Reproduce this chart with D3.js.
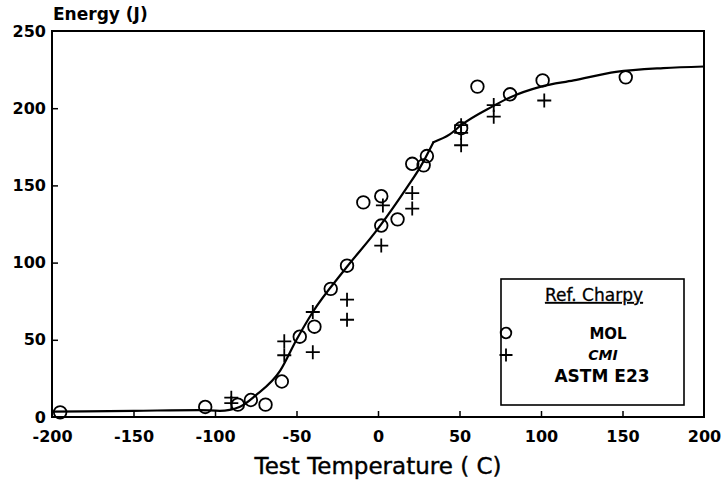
<!DOCTYPE html>
<html>
<head>
<meta charset="utf-8">
<script src="https://cdn.jsdelivr.net/npm/d3@7"></script>
<style>
html,body{margin:0;padding:0;background:#fff;}
svg{display:block;}
</style>
</head>
<body>
<svg id="chart" width="727" height="483"></svg>
<script>
// ---- data ----
const xTicks = [-200, -150, -100, -50, 0, 50, 100, 150, 200];
const yTicks = [0, 50, 100, 150, 200, 250];

// MOL (circles)
const molT = [-195, -106, -86, -78, -69, -59, -48, -39, -29, -19, -9, 2, 2, 12, 21, 28, 30, 51, 61, 81, 101, 152];
const molE = [3, 6.5, 8, 11, 8, 23, 52, 58.5, 83, 98, 139, 143, 124, 128, 164, 163, 169, 187, 214, 209, 218, 220];

// CMI (plus)
const cmiT = [-90, -90, -57.5, -57.5, -40, -40, -19, -19, 3, 2, 21, 21, 51, 51, 51, 71, 71, 102];
const cmiE = [12.5, 9, 49, 40, 68, 42, 76, 63, 137, 111, 145, 135, 189, 184, 176, 202, 194.5, 205];

// ASTM E23 fit curve (kink at T = 34)
const curveT = [-200, -150, -110, -97, -85, -75, -60, -50, -40, -20, 0, 18, 26, 34, 44, 51, 70, 81, 100, 120, 146, 175, 200];
const curveE = [3.5, 4, 4.5, 4, 6.5, 14, 30, 50, 68, 96, 122, 149, 162, 178, 183, 189, 201, 207, 214, 218, 223.5, 226, 227];
const kinkT = 34;

// ---- chart ----
const svg = d3.select("#chart");
const x = d3.scaleLinear().domain([-200, 200]).range([52, 704]);
const y = d3.scaleLinear().domain([0, 250]).range([417, 31]);

const tickFont = "'DejaVu Sans', sans-serif";

// frame
svg.append("rect")
  .attr("x", x(-200)).attr("y", y(250))
  .attr("width", x(200) - x(-200)).attr("height", y(0) - y(250))
  .attr("fill", "none").attr("stroke", "#000").attr("stroke-width", 2);

// axes
const gx = svg.append("g").attr("transform", `translate(0,${y(0)})`)
  .call(d3.axisBottom(x).tickValues(xTicks).tickSizeInner(-6).tickSizeOuter(0).tickPadding(14)
    .tickFormat(d3.format("d")));
const gy = svg.append("g").attr("transform", `translate(${x(-200)},0)`)
  .call(d3.axisLeft(y).tickValues(yTicks).tickSizeInner(-6).tickSizeOuter(0).tickPadding(6)
    .tickFormat(d3.format("d")));
[gx, gy].forEach(g => {
  g.select(".domain").remove();
  g.selectAll(".tick line").attr("stroke", "#000").attr("stroke-width", 1.5);
  g.selectAll(".tick text").attr("fill", "#000")
    .style("font-family", tickFont).style("font-weight", "bold").style("font-size", "16px");
});
gx.selectAll(".tick text").text(d => d < 0 ? "-" + Math.abs(d) : d);
gx.selectAll(".tick line").filter(d => d === -200 || d === 200).remove();
gy.selectAll(".tick line").filter(d => d === 0 || d === 250).remove();

// axis titles
svg.append("text").attr("x", x(0)).attr("y", 474).attr("text-anchor", "middle")
  .attr("stroke", "#000").attr("stroke-width", 0.4)
  .style("font-family", tickFont).style("font-size", "23px").text("Test Temperature ( C)");
svg.append("text").attr("x", 53).attr("y", 20)
  .style("font-family", tickFont).style("font-weight", "bold").style("font-size", "17px").text("Energy (J)");

// curve (two smooth pieces meeting at the kink)
const curveData = curveT.map((t, i) => [t, curveE[i]]);
const line = d3.line().x(d => x(d[0])).y(d => y(d[1])).curve(d3.curveMonotoneX);
[curveData.filter(d => d[0] <= kinkT), curveData.filter(d => d[0] >= kinkT)].forEach(seg => {
  svg.append("path").datum(seg)
    .attr("fill", "none").attr("stroke", "#000").attr("stroke-width", 2.2)
    .attr("stroke-linejoin", "round").attr("stroke-linecap", "round")
    .attr("d", line);
});

// MOL circles
const molData = molT.map((t, i) => [t, molE[i]]);
svg.append("g").selectAll("circle").data(molData).join("circle")
  .attr("cx", d => x(d[0])).attr("cy", d => y(d[1])).attr("r", 6.3)
  .attr("fill", "none").attr("stroke", "#000").attr("stroke-width", 1.8);

// CMI plus
const cmiData = cmiT.map((t, i) => [t, cmiE[i]]);
svg.append("g").selectAll("path").data(cmiData).join("path")
  .attr("transform", d => `translate(${x(d[0])},${y(d[1])})`)
  .attr("d", "M-7,0H7M0,-7V7")
  .attr("fill", "none").attr("stroke", "#000").attr("stroke-width", 1.8);

// legend
const lg = svg.append("g");
lg.append("rect").attr("x", 501).attr("y", 279).attr("width", 183).attr("height", 126)
  .attr("fill", "#fff").attr("stroke", "#000").attr("stroke-width", 1.6);
lg.append("text").attr("x", 594).attr("y", 301).attr("text-anchor", "middle")
  .attr("stroke", "#000").attr("stroke-width", 0.3)
  .style("font-family", tickFont).style("font-size", "17px")
  .style("text-decoration", "underline").text("Ref. Charpy");
lg.append("circle").attr("cx", 506).attr("cy", 333).attr("r", 5.3)
  .attr("fill", "none").attr("stroke", "#000").attr("stroke-width", 1.8);
lg.append("path").attr("transform", "translate(506,355)").attr("d", "M-6.5,0H6.5M0,-6.5V6.5")
  .attr("fill", "none").attr("stroke", "#000").attr("stroke-width", 1.8);
lg.append("text").attr("x", 608).attr("y", 339).attr("text-anchor", "middle")
  .style("font-family", tickFont).style("font-weight", "bold").style("font-size", "15px").text("MOL");
lg.append("text").attr("x", 603).attr("y", 360).attr("text-anchor", "middle")
  .style("font-family", tickFont).style("font-weight", "bold").style("font-style", "italic")
  .style("font-size", "14px").text("CMI");
lg.append("text").attr("x", 602).attr("y", 382).attr("text-anchor", "middle")
  .style("font-family", tickFont).style("font-weight", "bold").style("font-size", "17px").text("ASTM E23");
</script>
</body>
</html>
